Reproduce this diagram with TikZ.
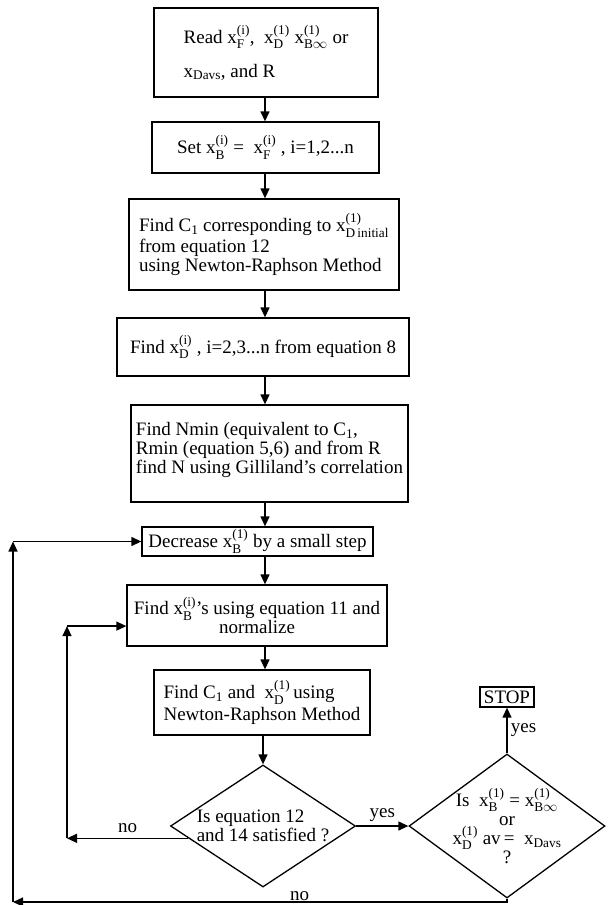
\documentclass[tikz,border=0pt]{standalone}
\usepackage{fontspec}
\setmainfont{Liberation Serif}
\usepackage{amsmath}
\usetikzlibrary{shapes.geometric,arrows.meta,calc}
\newcommand\xx[2]{x$^{\text{(#1)}}_{\text{#2}}$}
\begin{document}
\begin{tikzpicture}[x=1pt,y=-1pt,
  txt/.style={font=\fontsize{19}{19}\selectfont},
  box/.style={txt,draw,line width=1.3pt,inner sep=2pt},
  dia/.style={draw,diamond,aspect=1,inner sep=0pt,line width=1.3pt},
  arr/.style={line width=1.3pt,-{Triangle[length=10pt,width=9pt]}}]
\useasboundingbox (0,0) rectangle (608,905);
\coordinate (sp) at (265,0);
\coordinate (lx) at (67,0);
\coordinate (bl) at (13,902);
% boxes
\node[box,minimum width=224pt,minimum height=89pt,align=left] (b1) at (266,52.5)
  {Read \xx{i}{F},\ \ \xx{1}{D}\ \xx{1}{B$\infty$}\ or\\[15pt]x$_{\text{Davs}}$, and R};
\node[box,minimum width=227pt,minimum height=51pt,align=left] (b2) at (265.5,147.5)
  {Set\ \xx{i}{B}\ =\ \ \xx{i}{F}\ , i=1,2...n};
\node[box,minimum width=270pt,minimum height=91pt,align=left] (b3) at (264,244.5)
  {Find C\textsubscript{1} corresponding to\ x$^{\text{(1)}}_{\text{D\,initial}}$\\from equation 12\\using Newton-Raphson Method};
\node[box,minimum width=292pt,minimum height=58pt,align=left] (b4) at (263,347)
  {Find \xx{i}{D}\ , i=2,3...n from equation 8};
\node[box,minimum width=277pt,minimum height=97pt,align=left] (b5) at (269.5,453.5)
  {Find Nmin (equivalent to C\textsubscript{1},\\Rmin (equation 5,6) and from R\\find N using Gilliland's correlation\\[-8pt]\mbox{}};
\node[box,minimum width=231pt,minimum height=29pt,align=left] (b6) at (257.5,541.5)
  {Decrease\ \xx{1}{B}\ by a small step};
\node[box,minimum width=260pt,minimum height=61pt,align=center] (b7) at (257,615.5)
  {Find \xx{i}{B}'s using equation 11 and\\normalize};
\node[box,minimum width=216pt,minimum height=65pt,align=left] (b8) at (262,702.5)
  {Find C\textsubscript{1} and\ \ \xx{1}{D}\,using\\[3pt]Newton-Raphson Method};
% decisions
\node[dia,minimum width=185pt,minimum height=122pt] (d1) at (263,826) {};
\node[txt,align=left] (d1t) at (d1.center) {Is equation 12\\ and 14 satisfied ?};
\node[dia,minimum width=196pt,minimum height=144pt] (d2) at (507,826) {};
\node[txt,align=center] (d2t) at (d2.center)
  {Is\ \ \xx{1}{B}\ =\ \xx{1}{B$\infty$}\\or\\\xx{1}{D}\ av\,=\ \ x$_{\text{Davs}}$\\?};
\node[box,minimum width=54pt,minimum height=20pt,inner sep=1pt] (stop) at (507,697) {STOP};
% main flow
\draw[arr] (b1.south -| sp) -- (b2.north -| sp);
\draw[arr] (b2.south -| sp) -- (b3.north -| sp);
\draw[arr] (b3.south -| sp) -- (b4.north -| sp);
\draw[arr] (b4.south -| sp) -- (b5.north -| sp);
\draw[arr] (b5.south -| sp) -- (b6.north -| sp);
\draw[arr] (b6.south -| sp) -- (b7.north -| sp);
\draw[arr] (b7.south -| sp) -- (b8.north -| sp);
\draw[arr] (b8.south -| d1.north) -- (d1.north);
\draw[arr] (d1.east) -- node[txt,above]{yes} (d2.west);
\draw[arr] (d2.north) -- node[txt,right]{yes} (stop.south);
% inner loop
\coordinate (in7) at ($(b7.south west)!0.33!(b7.north west)$);
\draw[arr] ($(d1.west)!0.2!(d1.south)$) coordinate (nd) -- node[txt,above=2pt]{no} (nd -| lx);
\draw[arr] (nd -| lx) -- (in7 -| lx);
\draw[arr] (in7 -| lx) -- (in7);
% outer loop
\draw[arr] (d2.south) |- node[txt,above,pos=0.71,inner sep=1pt]{no} (bl);
\draw[arr] (bl) -- (bl |- b6.west);
\draw[arr] (bl |- b6.west) -- (b6.west);
\end{tikzpicture}
\end{document}
